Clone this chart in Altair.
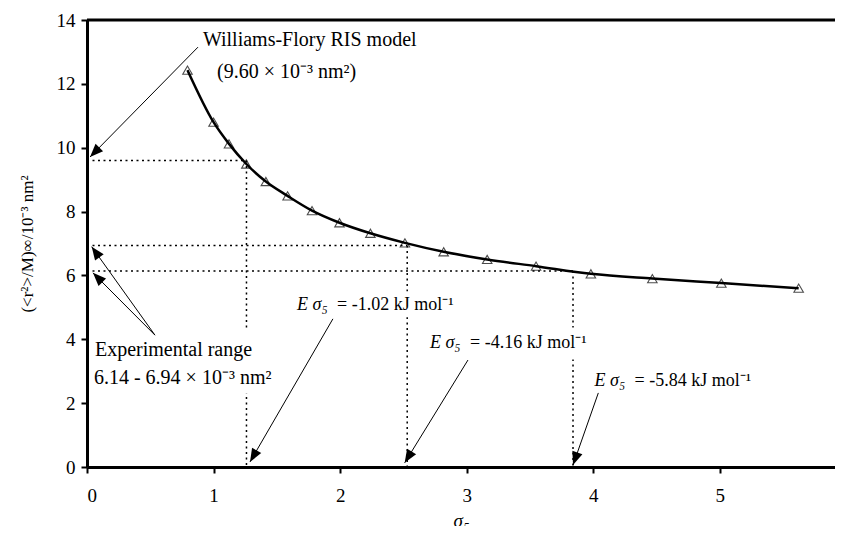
import math
import altair as alt
import pandas as pd

# ---- data ----
sigma5 = [0.794, 1.0, 1.122, 1.259, 1.413, 1.585, 1.778, 1.995, 2.239, 2.512,
          2.818, 3.162, 3.548, 3.981, 4.467, 5.012, 5.623]
ratio = [12.43, 10.80, 10.12, 9.49, 8.94, 8.49, 8.03, 7.65, 7.32, 7.02,
         6.74, 6.50, 6.29, 6.05, 5.90, 5.76, 5.60]

ref_y = [9.60, 6.94, 6.14]          # RIS model value and experimental range
ref_x = [1.26, 2.53, 3.84]          # sigma5 where curve meets each

x_ticks = [0, 1, 2, 3, 4, 5]
y_ticks = [0, 2, 4, 6, 8, 10, 12, 14]

# annotation texts (normal style)
txt_x = [0.916, 1.027, 0.063, 0.055]
txt_y = [13.37, 12.37, 3.66, 2.79]
txt_label = ["Williams-Flory RIS model", "(9.60 \u00d7 10\u207b\u00b3 nm\u00b2)",
             "Experimental range", "6.14 - 6.94 \u00d7 10\u207b\u00b3 nm\u00b2"]

# energy labels
e_x = [1.66, 2.71, 4.01]
e_y = [5.07, 3.88, 2.69]
e_val = ["= -1.02 kJ mol\u207b\u00b9", "= -4.16 kJ mol\u207b\u00b9", "= -5.84 kJ mol\u207b\u00b9"]

# white boxes behind labels (data units)
box_x = [0.06, 1.64, 2.70]
box_x2 = [1.47, 3.42, 4.08]
box_y = [2.30, 4.69, 3.37]
box_y2 = [4.31, 5.50, 4.37]

# arrows: start -> tip
arr_sx = [0.877, 0.537, 0.537, 1.943, 3.01, 4.04]
arr_sy = [13.15, 4.13, 4.13, 4.64, 3.35, 2.32]
arr_tx = [0.024, 0.037, 0.047, 1.288, 2.51, 3.84]
arr_ty = [9.71, 6.90, 6.08, 0.16, 0.13, 0.06]

# ---- layout ----
W, H = 748, 447
XMAX, YMAX = 5.91, 14
FONT = "Liberation Serif"

xs = alt.Scale(domain=[0, XMAX], nice=False, zero=False)
ys = alt.Scale(domain=[0, YMAX], nice=False)

curve_df = pd.DataFrame({"s": sigma5, "r": ratio})

hdf = pd.DataFrame({"x": [0] * 3, "x2": ref_x, "y": ref_y})
vdf = pd.DataFrame({"x": ref_x, "y": ref_y, "y2": [0] * 3})

box_df = pd.DataFrame({"x": box_x, "x2": box_x2, "y": box_y, "y2": box_y2})

ang = []
for sx, sy, tx, ty in zip(arr_sx, arr_sy, arr_tx, arr_ty):
    dxp = (tx - sx) * W / XMAX
    dyp = -(ty - sy) * H / YMAX
    ang.append(math.degrees(math.atan2(dxp, -dyp)) % 360)
arr_df = pd.DataFrame({"sx": arr_sx, "sy": arr_sy, "tx": arr_tx, "ty": arr_ty, "a": ang})

txt_df = pd.DataFrame({"x": txt_x, "y": txt_y, "t": txt_label})
e_df = pd.DataFrame({"x": e_x, "y": e_y, "v": e_val})

X = lambda f: alt.X(f, type="quantitative", scale=xs)
Y = lambda f: alt.Y(f, type="quantitative", scale=ys)

axis_common = dict(grid=False, domainColor="black", domainWidth=3, tickColor="black",
                   tickWidth=2, tickSize=6, labelColor="black", labelFont=FONT,
                   labelFontSize=19, titleFont=FONT,
                   titleFontWeight="normal", titleColor="black", format="d")

line = alt.Chart(curve_df).mark_line(color="black", strokeWidth=2.5, interpolate="monotone").encode(
    x=alt.X("s", type="quantitative", scale=xs,
            axis=alt.Axis(values=x_ticks, title="\u03c3\u2085", titleFontStyle="italic",
                          titleFontSize=19, labelPadding=13, titlePadding=6, **axis_common)),
    y=alt.Y("r", type="quantitative", scale=ys,
            axis=alt.Axis(values=y_ticks, labelPadding=6, titlePadding=20, titleFontSize=17,
                          title="(<r\u00b2>/M)\u221e/10\u207b\u00b3 nm\u00b2", **axis_common)),
)

dot_h = alt.Chart(hdf).mark_rule(color="black", strokeDash=[2, 3.5], strokeWidth=1.5).encode(
    x=X("x"), x2="x2", y=Y("y"))
dot_v = alt.Chart(vdf).mark_rule(color="black", strokeDash=[2, 3.5], strokeWidth=1.5).encode(
    x=X("x"), y=Y("y"), y2="y2")

boxes = alt.Chart(box_df).mark_rect(color="white").encode(
    x=X("x"), x2="x2", y=Y("y"), y2="y2")

pts = alt.Chart(curve_df).mark_point(shape="triangle-up", filled=False, color="black",
                                     size=90, strokeWidth=1.1).encode(x=X("s"), y=Y("r"))

arr_lines = alt.Chart(arr_df).mark_rule(color="black", strokeWidth=1).encode(
    x=X("sx"), y=Y("sy"), x2="tx", y2="ty")
arr_heads = alt.Chart(arr_df).mark_point(
    shape="M0,0L-0.4,1L0.4,1Z", filled=True, color="black", size=700, opacity=1,
    strokeWidth=0).encode(x=X("tx"), y=Y("ty"), angle=alt.Angle("a", type="quantitative", scale=None))

texts = alt.Chart(txt_df).mark_text(align="left", baseline="middle", font=FONT,
                                    fontSize=20, color="black").encode(
    x=X("x"), y=Y("y"), text="t")
e_it = alt.Chart(e_df).mark_text(align="left", baseline="middle", font=FONT,
                                 fontSize=18, fontStyle="italic", color="black").encode(
    x=X("x"), y=Y("y"), text=alt.value("E \u03c3\u2085"))
e_txt = alt.Chart(e_df).mark_text(align="left", baseline="middle", font=FONT, dx=40,
                                  fontSize=18, color="black").encode(
    x=X("x"), y=Y("y"), text="v")

top = alt.Chart(pd.DataFrame({"y": [YMAX]})).mark_rule(color="black", strokeWidth=3).encode(
    y=Y("y"))

chart = alt.layer(line, dot_h, dot_v, boxes, pts, arr_lines, arr_heads, texts, e_it, e_txt, top).properties(
    width=W, height=H,
    autosize=alt.AutoSizeParams(type="none"),
    padding={"left": 79, "top": 12, "right": 0, "bottom": 59},
).configure_view(stroke=None).configure_axis(
    grid=False, domainColor="black", domainWidth=3, tickColor="black",
    tickWidth=2, tickSize=6, labelColor="black", labelFont=FONT,
    labelFontSize=19, titleFont=FONT, titleFontWeight="normal", titleColor="black",
)

chart.save("out.html", embed_options={"renderer": "svg", "actions": False})
